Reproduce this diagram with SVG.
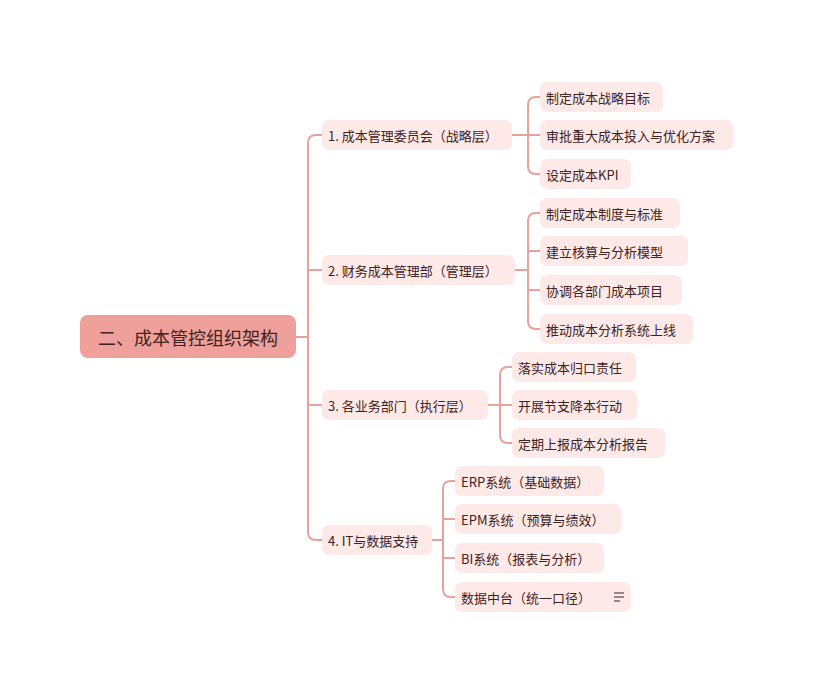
<svg xmlns="http://www.w3.org/2000/svg" width="814" height="693" viewBox="0 0 814 693">
<style>
.ln{fill:none;stroke:#e8a29c;stroke-width:2}
.b{fill:#fde9e7}
.t{font-family:"Noto Sans CJK SC","Noto Sans",sans-serif;font-size:13px;fill:#3d2323;dominant-baseline:central}
</style>
<rect width="814" height="693" fill="#fff"/>
<g id="connectors">
<path class="ln" d="M296 337H308M322 135H316Q308 135 308 143V532Q308 540 316 540H322M308 270H322M308 405H322"/>
<path class="ln" d="M512 135H528M540 97H536Q528 97 528 105V166Q528 174 536 174H540M528 135H540"/>
<path class="ln" d="M515 270H528M540 213H536Q528 213 528 221V321Q528 329 536 329H540M528 251H540M528 290H540"/>
<path class="ln" d="M488 405H500M512 367H508Q500 367 500 375V435Q500 443 508 443H512M500 405H512"/>
<path class="ln" d="M432 540H443M455 481H451Q443 481 443 489V589Q443 597 451 597H455M443 519H455M443 558H455"/>
</g>
<g id="root"><rect x="80" y="315" width="216" height="43" rx="8" fill="#f0a09a"/><text class="t" x="98" y="337" style="font-size:18px">二、成本管控组织架构</text></g>
<g id="n1"><rect class="b" x="322" y="120" width="190" height="30" rx="7"/><text class="t" x="328" y="135">1. 成本管理委员会（战略层）</text></g>
<g id="n2"><rect class="b" x="322" y="255" width="193" height="30" rx="7"/><text class="t" x="328" y="270">2. 财务成本管理部（管理层）</text></g>
<g id="n3"><rect class="b" x="322" y="390" width="166" height="30" rx="7"/><text class="t" x="328" y="405">3. 各业务部门（执行层）</text></g>
<g id="n4"><rect class="b" x="322" y="525" width="110" height="30" rx="7"/><text class="t" x="328" y="540">4. IT与数据支持</text></g>
<g id="n11"><rect class="b" x="540" y="82" width="123" height="30" rx="7"/><text class="t" x="546" y="97">制定成本战略目标</text></g>
<g id="n12"><rect class="b" x="540" y="120" width="193" height="30" rx="7"/><text class="t" x="546" y="135">审批重大成本投入与优化方案</text></g>
<g id="n13"><rect class="b" x="540" y="159" width="91" height="30" rx="7"/><text class="t" x="546" y="174">设定成本KPI</text></g>
<g id="n21"><rect class="b" x="540" y="198" width="140" height="30" rx="7"/><text class="t" x="546" y="213">制定成本制度与标准</text></g>
<g id="n22"><rect class="b" x="540" y="236" width="148" height="30" rx="7"/><text class="t" x="546" y="251">建立核算与分析模型</text></g>
<g id="n23"><rect class="b" x="540" y="275" width="142" height="30" rx="7"/><text class="t" x="546" y="290">协调各部门成本项目</text></g>
<g id="n24"><rect class="b" x="540" y="314" width="153" height="30" rx="7"/><text class="t" x="546" y="329">推动成本分析系统上线</text></g>
<g id="n31"><rect class="b" x="512" y="352" width="124" height="30" rx="7"/><text class="t" x="518" y="367">落实成本归口责任</text></g>
<g id="n32"><rect class="b" x="512" y="390" width="125" height="30" rx="7"/><text class="t" x="518" y="405">开展节支降本行动</text></g>
<g id="n33"><rect class="b" x="512" y="428" width="153" height="30" rx="7"/><text class="t" x="518" y="443">定期上报成本分析报告</text></g>
<g id="n41"><rect class="b" x="455" y="466" width="149" height="30" rx="7"/><text class="t" x="461" y="481">ERP系统（基础数据）</text></g>
<g id="n42"><rect class="b" x="455" y="504" width="166" height="30" rx="7"/><text class="t" x="461" y="519">EPM系统（预算与绩效）</text></g>
<g id="n43"><rect class="b" x="455" y="543" width="149" height="30" rx="7"/><text class="t" x="461" y="558">BI系统（报表与分析）</text></g>
<g id="n44"><rect class="b" x="455" y="582" width="176" height="30" rx="7"/><text class="t" x="461" y="597">数据中台（统一口径）</text><path d="M614 593H624M614 597H624M614 601H620" stroke="#3d2323" stroke-width="1.2"/></g>
</svg>
